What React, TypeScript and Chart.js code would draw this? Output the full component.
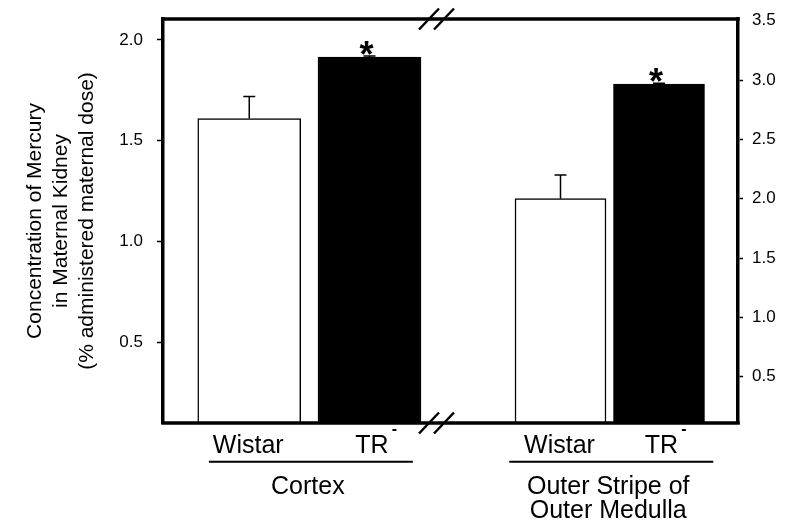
import React, { useEffect, useRef } from 'react';
import { Chart, registerables } from 'chart.js';

Chart.register(...registerables);

// ---------- data ----------
const strains = ['Wistar', 'TR'];
const regionLabels = [['Cortex'], ['Outer Stripe of', 'Outer Medulla']];
const cortexMeans = [1.61, 1.915];
const cortexErrors = [0.11, 0.005];
const medullaMeans = [2.0, 2.965];
const medullaErrors = [0.2, 0.008];
const significant = [false, true];
const leftTicks = [0.5, 1.0, 1.5, 2.0];
const rightTicks = [0.5, 1.0, 1.5, 2.0, 2.5, 3.0, 3.5];
const yTitle = ['Concentration of Mercury', 'in Maternal Kidney', '(% administered maternal dose)'];

// ---------- layout / style ----------
const FONT = '"Liberation Sans", Arial, Helvetica, sans-serif';
const barColors = ['#ffffff', '#000000'];
const xRange = [0, 23];
const xSlots = [
  [3.45, 8.26],
  [15.9, 19.84],
];
const breakAt = 10.94;
const barWidths = [103, 91];

const groups = [
  { axis: 'y', means: cortexMeans, errs: cortexErrors },
  { axis: 'y2', means: medullaMeans, errs: medullaErrors },
];

const decorPlugin = {
  id: 'decor',
  afterDraw(chart: any) {
    const { ctx, chartArea: ca, scales } = chart;
    const xs = scales.x;
    ctx.save();
    ctx.strokeStyle = '#000';
    ctx.fillStyle = '#000';

    // error bars and stars
    groups.forEach((g, gi) => {
      const ys = scales[g.axis];
      g.means.forEach((m: number, i: number) => {
        const cx = xs.getPixelForValue(xSlots[gi][i]);
        const yTop = ys.getPixelForValue(m);
        const yErr = ys.getPixelForValue(m + g.errs[i]);
        ctx.lineWidth = 1.5;
        ctx.beginPath();
        ctx.moveTo(cx, yTop);
        ctx.lineTo(cx, yErr);
        ctx.moveTo(cx - 6, yErr);
        ctx.lineTo(cx + 6, yErr);
        ctx.stroke();
        if (significant[i]) {
          const fs = 36;
          ctx.font = `bold ${fs}px ${FONT}`;
          ctx.textAlign = 'center';
          ctx.textBaseline = 'alphabetic';
          ctx.fillText('*', cx - 3, yErr - 15 + 0.716 * fs);
        }
      });
    });

    // frame top & bottom
    ctx.lineWidth = 3.5;
    ctx.beginPath();
    ctx.moveTo(ca.left - 1.75, ca.top);
    ctx.lineTo(ca.right + 1.75, ca.top);
    ctx.moveTo(ca.left - 1.75, ca.bottom);
    ctx.lineTo(ca.right + 1.75, ca.bottom);
    ctx.stroke();

    // axis break marks
    const bx = xs.getPixelForValue(breakAt);
    ctx.lineWidth = 2.5;
    [ca.top, ca.bottom].forEach((yy: number) => {
      [-7.5, 7.5].forEach((off) => {
        ctx.beginPath();
        ctx.moveTo(bx + off - 10, yy + 10.5);
        ctx.lineTo(bx + off + 10, yy - 10.5);
        ctx.stroke();
      });
    });

    // category labels
    ctx.textBaseline = 'alphabetic';
    groups.forEach((g, gi) => {
      const c0 = xs.getPixelForValue(xSlots[gi][0]);
      const c1 = xs.getPixelForValue(xSlots[gi][1]);
      ctx.font = `25px ${FONT}`;
      ctx.textAlign = 'center';
      ctx.fillText(strains[0], c0 - 1, 452.7);
      ctx.fillText(strains[1], c1 + 2.5, 452.7);
      const trW = ctx.measureText(strains[1]).width;
      ctx.font = `bold 16px ${FONT}`;
      ctx.textAlign = 'left';
      ctx.fillText('-', c1 + 2.5 + trW / 2 + 3, 434);
      // underline
      const gc = (c0 + c1) / 2 + 1.5;
      ctx.lineWidth = 2;
      ctx.beginPath();
      ctx.moveTo(gc - 102, 461.7);
      ctx.lineTo(gc + 102, 461.7);
      ctx.stroke();
      ctx.font = `25px ${FONT}`;
      ctx.textAlign = 'center';
      regionLabels[gi].forEach((line, li) => {
        ctx.fillText(line, gc - 3, 494 + li * 23.5);
      });
    });
    ctx.restore();
  },
};

export default function App() {
  const ref = useRef<HTMLCanvasElement>(null);
  useEffect(() => {
    if (!ref.current) return;
    const tickFont = { family: FONT, size: 17 };
    const chart = new Chart(ref.current, {
      type: 'bar',
      data: {
        datasets: [
          {
            label: 'Cortex',
            yAxisID: 'y',
            data: cortexMeans.map((v, i) => ({ x: xSlots[0][i], y: v })),
            backgroundColor: barColors,
            borderColor: '#000',
            borderWidth: 1.5,
            borderSkipped: false,
            barThickness: barWidths[0],
            grouped: false,
          } as any,
          {
            label: 'Outer Stripe of Outer Medulla',
            yAxisID: 'y2',
            data: medullaMeans.map((v, i) => ({ x: xSlots[1][i], y: v })),
            backgroundColor: barColors,
            borderColor: '#000',
            borderWidth: 1.5,
            borderSkipped: false,
            barThickness: barWidths[1],
            grouped: false,
          } as any,
        ],
      },
      options: {
        animation: false,
        responsive: false,
        layout: { padding: { left: 0, right: 0, top: 19, bottom: 98 } },
        plugins: { legend: { display: false }, tooltip: { enabled: false } },
        scales: {
          x: { type: 'linear', display: false, offset: false, min: xRange[0], max: xRange[1] },
          y: {
            position: 'left',
            min: 0.1,
            max: 2.104,
            afterFit: (s: any) => {
              s.width = 163;
              s.paddingTop = 0;
              s.paddingBottom = 0;
            },
            afterBuildTicks: (s: any) => {
              s.ticks = leftTicks.map((v) => ({ value: v }));
            },
            ticks: {
              callback: (v: any) => Number(v).toFixed(1),
              font: tickFont,
              color: '#000',
              padding: 14,
            },
            grid: { drawOnChartArea: false, drawTicks: true, tickLength: 6, tickWidth: 1.5, tickColor: '#000' },
            border: { display: true, width: 3.5, color: '#000' },
            title: {
              display: true,
              text: yTitle,
              color: '#000',
              font: { family: FONT, size: 21, lineHeight: 1.24 },
              padding: { top: 22, bottom: 0 },
            },
          },
          y2: {
            position: 'right',
            min: 0.11,
            max: 3.514,
            afterFit: (s: any) => {
              s.width = 47;
              s.paddingTop = 0;
              s.paddingBottom = 0;
            },
            afterBuildTicks: (s: any) => {
              s.ticks = rightTicks.map((v) => ({ value: v }));
            },
            ticks: {
              callback: (v: any) => Number(v).toFixed(1),
              font: tickFont,
              color: '#000',
              padding: 9,
            },
            grid: {
              drawOnChartArea: false,
              drawTicks: true,
              tickLength: 5,
              tickWidth: 1.5,
              tickColor: (c: any) => (c.tick && c.tick.value === 3.5 ? 'rgba(0,0,0,0)' : '#000'),
            },
            border: { display: true, width: 3.5, color: '#000' },
          },
        },
      } as any,
      plugins: [decorPlugin],
    });
    return () => chart.destroy();
  }, []);

  return (
    <div style={{ position: 'fixed', left: 0, top: 0, width: 785, height: 521, background: '#fff' }}>
      <canvas ref={ref} width={785} height={521} style={{ display: 'block', width: 785, height: 521 }} />
    </div>
  );
}
